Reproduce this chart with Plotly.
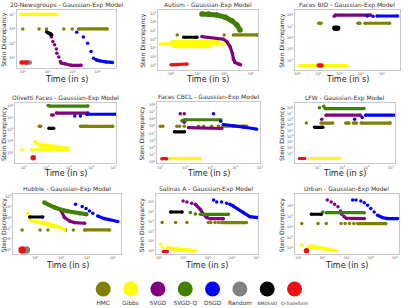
import plotly.graph_objects as go

# ---------------- data (time in s, Stein discrepancy) ----------------
METHODS = ["HMC", "Gibbs", "SVGD", "SVGD-Q", "DSGD", "Random", "NMDSVD", "Q-Transform"]
COLORS = ["#808000", "#ffff00", "#800080", "#408000", "#0000ff", "#808080", "#000000", "#ee1111"]

# 20-Newsgroups
NG_HMC_T = [1.0, None, 4.5, None, 9.0, None, 45, None, 98, None, 175, 2500]
NG_HMC_S = [1000, None, 1000, None, 1000, None, 1000, None, 1000, None, 1000, 1000]
NG_GIB_T = [0.83, 1.45, None, 1.8, 23]
NG_GIB_S = [1e4, 1e4, None, 1e4, 1e4]
NG_SVGD_T = [11.2, None, 12.9, None, 14.1, None, 16.2, None, 19, None, 22.4, None, 23.4, None, 28.2, None, 32.4, 35.5, 48, 89, 224]
NG_SVGD_S = [500, None, 390, None, 270, None, 135, None, 79, None, 40, None, 21, None, 11.2, None, 5.5, 4.3, 3.9, 3.0, 3.0]
NG_DSGD_T = [148, None, 275, None, 407, None, 562, None, 708, None, 891, 1200, 2240, 4070]
NG_DSGD_S = [590, None, 270, None, 102, None, 27, None, 9.5, None, 7.2, 6.2, 5.2, 4.8]
NG_RND_T = [1.45, 1.9]
NG_RND_S = [4.8, 4.8]
NG_NMD_T = [9.1, 11, 13.2, 14.5]
NG_NMD_S = [620, 525, 455, 390]
NG_QT_T = [0.89, 1.4]
NG_QT_S = [4.8, 4.8]

# Autism
AU_HMC_T = [1.7, None, 100, None, 224, 1780]
AU_HMC_S = [3300, None, 3300, None, 3300, 3300]
AU_GIB_T = [0.4, 93, None, 1.1, 61, None, 1.26, 30]
AU_GIB_S = [300, 300, None, 560, 560, None, 150, 150]
AU_SVGD_T = [14.5, 93, 126, 166, 204, 224, 257, 347, 417]
AU_SVGD_S = [2090, 1050, 560, 151, 26, 5.4, 2.2, 1.45, 1.2]
AU_SVGDQ_T = [14.5, 25.7, 52.5, 110, 195, 302, 398]
AU_SVGDQ_S = [8.3e5, 8.3e5, 6.5e5, 3.5e5, 1.4e5, 4.6e4, 1.2e4]
AU_NMD_T = [3, 9.4]
AU_NMD_S = [1780, 1780]
AU_QT_T = [1, 2, 4]
AU_QT_S = [1.2, 1.3, 1.5]

# Faces BIO
FB_HMC_T = [10.3, 13.2, None, 740, 910, None, 1580, 23000]
FB_HMC_S = [1.9e4, 1.9e4, None, 1.9e4, 1.9e4, None, 1.9e4, 1.9e4]
FB_GIB_T = [1.3, 195]
FB_GIB_S = [3.6, 3.6]
FB_SVGD_T = [56, None, 63, 2880]
FB_SVGD_S = [8e4, None, 1e5, 1e5]
FB_DSGD_T = [2000, None, 3800, None, 5900, 55000]
FB_DSGD_S = [8.3e4, None, 8e4, None, 8.3e4, 8.3e4]
FB_NMD_T = [60, 80]
FB_NMD_S = [6900, 6900]
FB_QT_T = [10.3, 14]
FB_QT_S = [3.6, 3.6]

# Olivetti Faces
OF_HMC_T = [4.8, 5.5, None, 330, 550, None, 630, 8900]
OF_HMC_S = [1860, 1860, None, 1860, 1860, None, 1860, 1860]
OF_GIB_T = [0.8, None, 2.2, 91, None, 3.1, None, 3.5, 91, None, 5, 60]
OF_GIB_S = [20, None, 18, 18, None, 93, None, 60, 25, None, 40, 22]
OF_SVGD_T = [17, None, 20, None, 28, 700]
OF_SVGD_S = [1.7e4, None, 1.7e4, None, 2.5e4, 2.5e4]
OF_SVGDQ_T = [12, None, 14, 700]
OF_SVGDQ_S = [1.1e5, None, 1e5, 1e5]
OF_DSGD_T = [182, None, 324, None, 630, 12600]
OF_DSGD_S = [1.45e4, None, 1.45e4, None, 2e4, 2e4]
OF_NMD_T = [13, 21]
OF_NMD_S = [1260, 1260]
OF_QT_T = [2.6]
OF_QT_S = [3.8]

# Faces CBCL
CB_HMC_T = [1.0, None, 1.26, None, 4.6, None, 5.9, None, 9.1, None, 34, None, 54, None, 115, None, 214, None, 316, 2900]
CB_HMC_S = [1e5, None, 1e5, None, 1e5, None, 1e5, None, 1e5, None, 1e5, None, 1e5, None, 1e5, None, 1e5, None, 1e5, 1e5]
CB_GIB_T = [2.5, 40]
CB_GIB_S = [2.8, 2.8]
CB_SVGD_T = [6.3, None, 9.1, None, 10.5, None, 9.1, None, 13.5, 290]
CB_SVGD_S = [5.6e6, None, 5.6e6, None, 7.4e5, None, 3.5e5, None, 6.3e4, 4.7e4]
CB_SVGDQ_T = [7.3, None, 9.1, 265]
CB_SVGDQ_S = [6e5, None, 8e5, 8e5]
CB_DSGD_T = [135, None, 265, None, 340, 850, 2140, 5400, 7200]
CB_DSGD_S = [5.6e6, None, 4.8e5, None, 1.7e5, 1.2e5, 7.6e4, 4.7e4, 3.7e4]
CB_NMD_T = [3.7, 9.3]
CB_NMD_S = [1.6e4, 1.6e4]
CB_QT_T = [1.15, 1.8]
CB_QT_S = [2.8, 2.8]

# LFW
LF_HMC_T = [3.4, None, 13.5, 41, None, 141, 190, None, 288, 390, None, 600, 9300]
LF_HMC_S = [2.2e5, None, 2.2e5, 2.2e5, None, 2.2e5, 2.2e5, None, 2.2e5, 2.2e5, None, 2.2e5, 2.2e5]
LF_GIB_T = [4.6, 76]
LF_GIB_S = [0.14, 0.14]
LF_SVGD_T = [14.5, None, 22, 560]
LF_SVGD_S = [1.07e6, None, 5.3e6, 5.3e6]
LF_SVGDQ_T = [11.7, None, 17.5, None, 20, 780]
LF_SVGDQ_S = [1.1e8, None, 2e8, None, 7.6e7, 7.6e7]
LF_DSGD_T = [324, None, 660, None, 910, 17400]
LF_DSGD_S = [1.07e6, None, 2.1e6, None, 5.3e6, 5.3e6]
LF_NMD_T = [7.4, 16]
LF_NMD_S = [4e4, 4e4]
LF_QT_T = [1.8, 2.9]
LF_QT_S = [0.14, 0.14]

# Hubble
HU_HMC_T = [3, None, 15, None, 30, None, 145, None, 295, None, 800, 7400]
HU_HMC_S = [74, None, 74, None, 74, None, 74, None, 74, None, 74, 74]
HU_GIB_T = [5, None, 5.9, 26, 85, 132, None, 10, 60]
HU_GIB_S = [2500, None, 600, 316, 132, 74, None, 420, 140]
HU_SVGD_T = [35, 63, 100, 132, 209, 324, 800]
HU_SVGD_S = [1.5e4, 9100, 4400, 1070, 510, 360, 316]
HU_SVGDQ_T = [22, 55, 155, 510, 930]
HU_SVGDQ_S = [2.7e4, 9100, 4400, 2700, 2200]
HU_DSGD_T = [355, None, 645, None, 910, None, 1230, None, 1660, None, 2570, 4700, 15500]
HU_DSGD_S = [1.9e4, None, 1.15e4, None, 7400, None, 4400, None, 2700, None, 1500, 850, 450]
HU_RND_T = [4.4]
HU_RND_S = [1]
HU_NMD_T = [5.9, 19]
HU_NMD_S = [1200, 1200]
HU_QT_T = [3]
HU_QT_S = [1]

# Salinas A
SA_HMC_T = [1.35, None, 4.8, None, 14, None, 107, None, 135, None, 200, None, 275, None, 370, None, 440, 3900]
SA_HMC_S = [790, None, 790, None, 790, None, 790, None, 790, None, 790, None, 790, None, 790, None, 790, 790]
SA_GIB_T = [1.17, None, 1.37, None, 2.2, 31, None, 3.5, 25]
SA_GIB_S = [4.8, None, 2.2, None, 2.2, 1.0, None, 1.3, 0.95]
SA_SVGD_T = [9.8, None, 14, None, 22, None, 31, 49, 68, 91, 129, 440]
SA_SVGD_S = [1.26e5, None, 1e5, None, 7.4e4, None, 5.9e4, 1.8e4, 5600, 2570, 2000, 2000]
SA_SVGDQ_T = [19.5, None, 31, None, 50, 710]
SA_SVGDQ_S = [8300, None, 6000, None, 5500, 5500]
SA_DSGD_T = [174, None, 234, None, 372, None, 600, None, 810, 1120, 2900, 5400, 11700]
SA_DSGD_S = [1.6e5, None, 1e5, None, 1e5, None, 7.4e4, None, 5.9e4, 3.9e4, 8300, 3200, 2570]
SA_NMD_T = [3, 8.9]
SA_NMD_S = [9500, 9500]
SA_QT_T = [1.5, 2.2]
SA_QT_S = [0.87, 0.87]

# Urban
UR_HMC_T = [1.4, None, 6.6, None, 14.5, None, 59, None, 87, None, 132, None, 200, None, 290, 4200]
UR_HMC_S = [2100, None, 2100, None, 2100, None, 2100, None, 2100, None, 2100, None, 2100, None, 2100, 2100]
UR_GIB_T = [1.4, None, 2.6, 37, None, 3.2, 20]
UR_GIB_S = [19, None, 13, 5.6, None, 17, 8]
UR_SVGD_T = [16, None, 23, None, 32, None, 44, None, 56, None, 63, None, 78, None, 95, 540]
UR_SVGD_S = [3.6e5, None, 2.3e5, None, 1.4e5, None, 8.5e4, None, 3.3e4, None, 1.6e4, None, 9800, None, 6800, 6300]
UR_SVGDQ_T = [10.5, None, 14.5, 540]
UR_SVGDQ_S = [2.6e4, None, 2.3e4, 2.3e4]
UR_DSGD_T = [178, None, 245, None, 390, None, 540, None, 740, None, 1000, None, 1380, None, 1900, 3000, 4900, 12600]
UR_DSGD_S = [3.6e5, None, 3.6e5, None, 2.9e5, None, 2e5, None, 1.15e5, None, 5.6e4, None, 2.6e4, None, 1.3e4, 7900, 6300, 6300]
UR_NMD_T = [3.5, 9]
UR_NMD_S = [1.6e4, 1.6e4]
UR_QT_T = [2.2]
UR_QT_S = [5.6]

TITLES = ["20-Newsgroups - Gaussian-Exp Model", "Autism - Gaussian-Exp Model", "Faces BIO - Gaussian-Exp Model",
          "Olivetti Faces - Gaussian-Exp Model", "Faces CBCL - Gaussian-Exp Model", "LFW - Gaussian-Exp Model",
          "Hubble - Gaussian-Exp Model", "Salinas A - Gaussian-Exp Model", "Urban - Gaussian-Exp Model"]

# decade exponents used as tick labels
NG_XT, NG_YT = [0, 1, 2, 3], [1, 2, 3, 4]
AU_XT, AU_YT = [0, 1, 2, 3], [0, 1, 2, 3, 4, 5, 6]
FB_XT, FB_YT = [0, 1, 2, 3, 4], [1, 2, 3, 4, 5]
OF_XT, OF_YT = [0, 1, 2, 3, 4], [1, 2, 3, 4, 5]
CB_XT, CB_YT = [0, 1, 2, 3, 4], [0, 1, 2, 3, 4, 5, 6, 7, 8]
LF_XT, LF_YT = [1, 2, 3, 4], [0, 1, 2, 3, 4, 5, 6, 7, 8]
HU_XT, HU_YT = [1, 2, 3, 4], [0, 1, 2, 3, 4, 5]
SA_XT, SA_YT = [0, 1, 2, 3, 4], [0, 1, 2, 3, 4, 5]
UR_XT, UR_YT = [0, 1, 2, 3, 4], [1, 2, 3, 4, 5]

# ---------------- layout constants ----------------
W, H = 410, 308
# plot boxes in px: (left, top, right, bottom)
BOXES = [(17, 10, 117, 68), (159, 10, 260, 70), (297, 10, 403, 70),
         (15, 103, 117, 164), (158, 102, 262, 164), (297, 103, 398, 164),
         (13, 195, 122, 255), (157, 195, 260, 255), (297, 195, 402, 255)]
XR = [(-0.24, 3.76), (-0.5, 3.28), (-0.12, 4.86), (-0.4, 4.1), (-0.14, 4.0),
      (0.06, 4.17), (0.12, 4.32), (-0.13, 4.07), (-0.14, 4.17)]
YR = [(0.31, 4.31), (-0.49, 6.38), (0.18, 5.45), (0.1, 5.29), (-0.23, 8.44),
      (-1.72, 8.91), (-0.4, 5.2), (-0.34, 5.79), (0.43, 6.09)]
YLAB_X = [4, 144, 284, 4, 143, 284, 4, 143, 284]
XLAB_Y = [80, 80, 80, 174, 174, 174, 266, 266, 266]

g = globals()
PREFIX = ["NG", "AU", "FB", "OF", "CB", "LF", "HU", "SA", "UR"]
KEYS = ["HMC", "GIB", "SVGD", "SVGDQ", "DSGD", "RND", "NMD", "QT"]
BASE = 3.5
SIZES = {("AU", "SVGDQ"): 5.5, ("HU", "QT"): 7.5, ("HU", "RND"): 7.5, ("OF", "QT"): 5.5,
         ("UR", "QT"): 5.5, ("FB", "NMD"): 5.5, ("FB", "QT"): 4.5, ("HU", "SVGDQ"): 4.5,
         ("NG", "QT"): 4.5, ("NG", "RND"): 4.5}


def sup(k):
    return "10<sup>%d</sup>" % k


fig = go.Figure()
layout = dict(width=W, height=H, margin=dict(l=0, r=0, t=0, b=0),
              paper_bgcolor="white", plot_bgcolor="white", showlegend=False,
              font=dict(family="DejaVu Sans", color="#222"))
ann = []
for i, p in enumerate(PREFIX):
    n = i + 1
    xs = "x" if n == 1 else "x%d" % n
    ys = "y" if n == 1 else "y%d" % n
    l, t, r, b = BOXES[i]
    xt = g[p + "_XT"]
    yt = g[p + "_YT"]
    axstyle = dict(type="log", showgrid=False, zeroline=False, showline=True, mirror=True,
                   linecolor="#c8c8c8", linewidth=1, ticks="",
                   tickfont=dict(size=3.5, color="#555"))
    layout["xaxis" + ("" if n == 1 else str(n))] = dict(
        axstyle, domain=[l / W, r / W], range=list(XR[i]), anchor=ys,
        tickvals=[10 ** k for k in xt], ticktext=[sup(k) for k in xt])
    layout["yaxis" + ("" if n == 1 else str(n))] = dict(
        axstyle, domain=[1 - b / H, 1 - t / H], range=list(YR[i]), anchor=xs,
        tickvals=[10 ** k for k in yt], ticktext=[sup(k) for k in yt])
    for k, key in enumerate(KEYS):
        tn, sn = p + "_" + key + "_T", p + "_" + key + "_S"
        if tn not in g:
            continue
        ms = SIZES.get((p, key), BASE)
        fig.add_trace(go.Scatter(x=g[tn], y=g[sn], xaxis=xs, yaxis=ys, mode="lines+markers",
                                 connectgaps=False,
                                 marker=dict(size=ms, color=COLORS[k], line=dict(width=0)),
                                 line=dict(width=ms * 0.9, color=COLORS[k]), hoverinfo="skip"))
    cx = (l + r) / 2
    ann.append(dict(text=TITLES[i], x=cx / W, y=1 - (t - 5) / H, xref="paper", yref="paper",
                    showarrow=False, font=dict(size=6, color="#333"), xanchor="center", yanchor="middle"))
    ann.append(dict(text="Time (in s)", x=cx / W, y=1 - XLAB_Y[i] / H, xref="paper", yref="paper",
                    showarrow=False, font=dict(size=8, color="#222"), xanchor="center", yanchor="middle"))
    ann.append(dict(text="Stein Discrepancy", x=YLAB_X[i] / W, y=1 - ((t + b) / 2) / H, xref="paper",
                    yref="paper", showarrow=False, textangle=-90, font=dict(size=6, color="#222"),
                    xanchor="center", yanchor="middle"))

# legend row: circles and their labels
LEG_SIZES = [5.8, 5.8, 5.8, 5.8, 5.8, 5.8, 4.5, 4.5]
N = len(METHODS)
fig.add_trace(go.Scatter(x=list(range(N)), y=[0.643] * N, xaxis="x10", yaxis="y10",
                         mode="markers", marker=dict(size=15, color=COLORS, line=dict(width=0)),
                         hoverinfo="skip"))
fig.add_trace(go.Scatter(x=list(range(N)), y=[0.118] * N, xaxis="x10", yaxis="y10",
                         mode="text", text=METHODS, textposition="middle center",
                         textfont=dict(size=LEG_SIZES, color="#333"), hoverinfo="skip"))
layout["xaxis10"] = dict(domain=[90.2 / W, 310.5 / W], range=[-0.5, 7.5], visible=False, anchor="y10")
layout["yaxis10"] = dict(domain=[0, 28 / H], range=[0, 1], visible=False, anchor="x10")
layout["annotations"] = ann
fig.update_layout(**layout)
fig.write_html("out.html")
